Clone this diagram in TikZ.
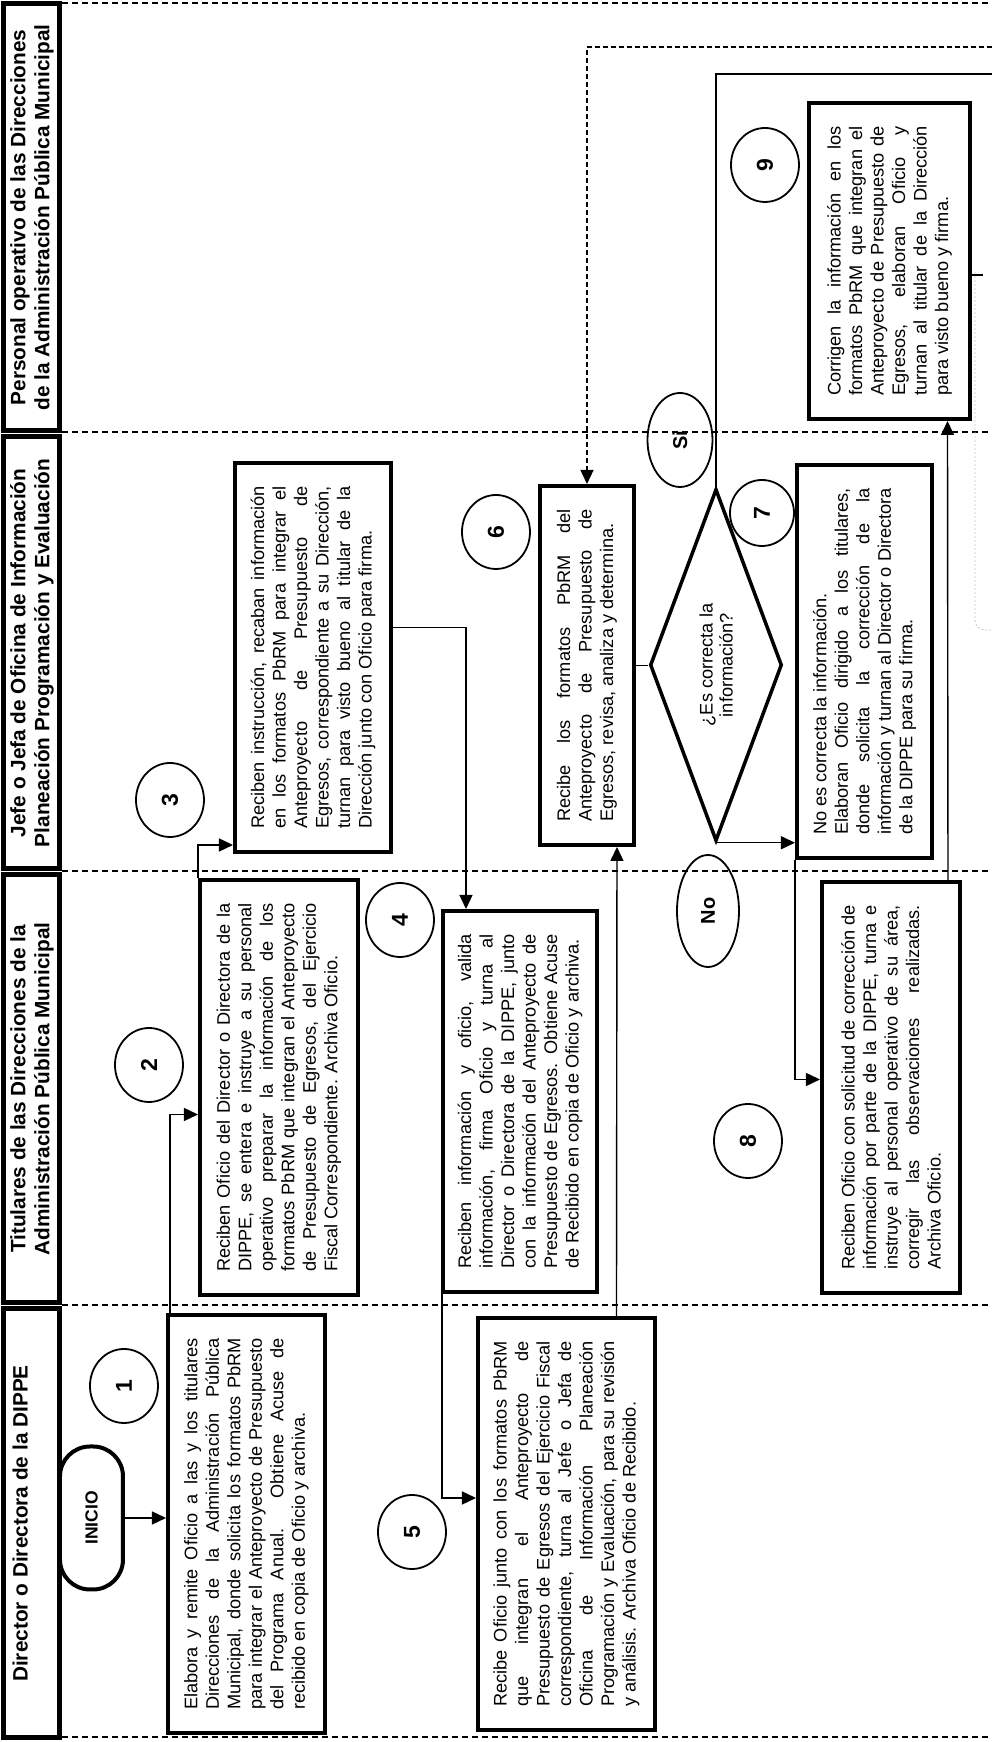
\documentclass[tikz,border=0pt]{standalone}
\usepackage{fontspec}
\setmainfont{Liberation Sans}
\usetikzlibrary{arrows.meta,shapes.geometric}
\hyphenpenalty=10000
\tolerance=9999

\begin{document}
\begin{tikzpicture}[
    x=1pt, y=1pt, rotate=90, transform shape,
    every node/.style={font=\fontsize{18.2}{21.5}\selectfont},
    lane/.style={draw, line width=5pt, align=center, minimum height=56pt, inner sep=0pt, font=\bfseries\fontsize{20.8}{24}\selectfont},
    box/.style={draw, line width=4pt, align=justify, inner sep=0pt},
    terminal/.style={draw, line width=4pt, rounded corners=30pt, minimum width=143pt, minimum height=63pt, font=\bfseries\fontsize{17.5}{20}\selectfont},
    decision/.style={draw, diamond, aspect=2.67, line width=3.5pt, align=center, inner sep=0pt, minimum width=352pt, minimum height=132pt, font=\fontsize{18.2}{20}\selectfont},
    stepnum/.style={draw, ellipse, line width=1.8pt, minimum width=74pt, minimum height=68pt, inner sep=0pt, font=\bfseries\fontsize{23}{23}\selectfont},
    answer/.style={draw, ellipse, line width=1.8pt, inner sep=0pt, font=\bfseries\fontsize{20}{20}\selectfont},
    flow/.style={-{Triangle[length=14pt,width=13pt]}, line width=1.4pt},
    link/.style={line width=1.4pt},
    feedback/.style={flow, dash pattern=on 5pt off 3pt},
    lanesep/.style={line width=1.5pt, dash pattern=on 6pt off 4pt},
    faint/.style={gray!45, line width=0.8pt, dash pattern=on 2pt off 2pt}
]
\useasboundingbox (0,0) rectangle (1742,992);
\node[lane, minimum width=429pt] (hdirector) at (218.5,960) {Director o Directora de la DIPPE\\\mbox{}};
\node[lane, minimum width=428pt] (htitulares) at (653,960) {Titulares de las Direcciones de la\\Administración Pública Municipal};
\node[lane, minimum width=432pt] (hjefe) at (1089,960) {Jefe o Jefa de Oficina de Información\\Planeación Programación y Evaluación};
\node[lane, minimum width=427pt] (hpersonal) at (1524.5,960) {Personal operativo de las Direcciones\\de la Administración Pública Municipal};
\draw[lanesep] (5,930) -- (5,0);
\draw[lanesep] (437,930) -- (437,0);
\draw[lanesep] (871,930) -- (871,0);
\draw[lanesep] (1310,930) -- (1310,0);
\draw[lanesep] (1739,930) -- (1739,0);

\node[terminal] (inicio) at (224,900.5) {INICIO};
\node[box, text width=372pt, minimum width=418pt, minimum height=157pt] (elabora) at (218,745.5) {Elabora y remite Oficio a las y los titulares\linebreak Direcciones de la Administración Pública\linebreak Municipal, donde solicita los formatos PbRM\linebreak para integrar el Anteproyecto de Presupuesto\linebreak del Programa Anual. Obtiene Acuse de\linebreak recibido en copia de Oficio y archiva.};
\node[box, text width=369pt, minimum width=415pt, minimum height=158pt] (reciben) at (654.5,713) {Reciben Oficio del Director o Directora de la\linebreak DIPPE, se entera e instruye a su personal\linebreak operativo preparar la información de los\linebreak formatos PbRM que integran el Anteproyecto\linebreak de Presupuesto de Egresos, del Ejercicio\linebreak Fiscal Correspondiente. Archiva Oficio.};
\node[box, text width=343pt, minimum width=389pt, minimum height=156pt] (recaban) at (1084.5,679) {Reciben instrucción, recaban información\linebreak en los formatos PbRM para integrar el\linebreak Anteproyecto de Presupuesto de\linebreak Egresos, correspondiente a su Dirección,\linebreak turnan para visto bueno al titular de la\linebreak Dirección junto con Oficio para firma.};
\node[box, text width=335pt, minimum width=381pt, minimum height=154pt] (valida) at (640.5,472) {Reciben información y oficio, valida\linebreak información, firma Oficio y turna al\linebreak Director o Directora de la DIPPE, junto\linebreak con la información del Anteproyecto de\linebreak Presupuesto de Egresos. Obtiene Acuse\linebreak de Recibido en copia de Oficio y archiva.};
\node[box, text width=366pt, minimum width=412pt, minimum height=177pt] (turna) at (218,425.5) {Recibe Oficio junto con los formatos PbRM\linebreak que integran el Anteproyecto de\linebreak Presupuesto de Egresos del Ejercicio Fiscal\linebreak correspondiente, turna al Jefe o Jefa de\linebreak Oficina de Información Planeación\linebreak Programación y Evaluación, para su revisión\linebreak y análisis. Archiva Oficio de Recibido.};
\node[box, text width=313pt, minimum width=359pt, minimum height=94pt] (revisa) at (1076.5,405) {Recibe los formatos PbRM del\linebreak Anteproyecto de Presupuesto de\linebreak Egresos, revisa, analiza y determina.};
\node[decision] (correcta) at (1077,276) {¿Es correcta la\\información?};
\node[box, text width=347pt, minimum width=393pt, minimum height=135pt] (solicita) at (1080.5,127.5) {No es correcta la información.\newline Elaboran Oficio dirigido a los titulares,\linebreak donde solicita la corrección de la\linebreak información y turnan al Director o Directora\linebreak de la DIPPE para su firma.};
\node[box, text width=365pt, minimum width=411pt, minimum height=138pt] (instruye) at (654.5,101) {Reciben Oficio con solicitud de corrección de\linebreak información por parte de la DIPPE, turna e\linebreak instruye al personal operativo de su área,\linebreak corregir las observaciones realizadas.\linebreak Archiva Oficio.};
\node[box, text width=270pt, minimum width=316pt, minimum height=161pt] (corrigen) at (1481,102.5) {Corrigen la información en los\linebreak formatos PbRM que integran el\linebreak Anteproyecto de Presupuesto de\linebreak Egresos, elaboran Oficio y\linebreak turnan al titular de la Dirección\linebreak para visto bueno y firma.};

\node[stepnum] (paso1) at (356,868) {1};
\node[stepnum] (paso2) at (677,843) {2};
\node[stepnum] (paso3) at (942,822) {3};
\node[stepnum] (paso4) at (822,592) {4};
\node[stepnum] (paso5) at (210,580) {5};
\node[stepnum] (paso6) at (1210,496) {6};
\node[stepnum, minimum width=66pt, minimum height=64pt] (paso7) at (1229,230) {7};
\node[stepnum] (paso8) at (601,244) {8};
\node[stepnum] (paso9) at (1577,227) {9};
\node[answer, minimum width=112pt, minimum height=62pt] (no) at (831,284) {No};
\node[answer, minimum width=94pt, minimum height=65pt] (si) at (1302,312) {Si};

\coordinate (siexit) at (1668,0);
\coordinate (fbentry) at (1695,0);
\coordinate (out9) at (1467,9);

\draw[flow] (inicio.south) -- (inicio.south |- elabora.north);
\draw[flow] ([yshift=-4pt]elabora.north east) -| ([xshift=-27pt]reciben.north);
\draw[flow] (reciben.north east) -| ([xshift=9pt]recaban.north west);
\draw[flow] ([xshift=30pt]recaban.south) |- ([yshift=54pt]valida.east);
\draw[flow] ([yshift=-1pt]valida.north west) -| ([xshift=26pt]turna.north);
\draw[flow] ([yshift=-50pt]turna.east) -- ([yshift=-30pt]revisa.west);
\draw[link] (revisa.south) -- (revisa.south |- correcta.north);
\draw[flow] (correcta.west) -- (correcta.west |- solicita.north);
\draw[flow] (solicita.north west) -| ([xshift=8pt]instruye.north);
\draw[flow] ([yshift=-57pt]instruye.east) -- ([yshift=-58pt]corrigen.west);
\draw[link, line width=1.7pt] (correcta.east) -| (siexit);
\draw[feedback] (fbentry) |- (revisa.east);
\draw[link] ([xshift=-14pt]corrigen.south) -- (out9);
\draw[faint, rounded corners=10pt] (1470,17) -- (1112,17) -- (1112,-10);
\end{tikzpicture}
\end{document}
